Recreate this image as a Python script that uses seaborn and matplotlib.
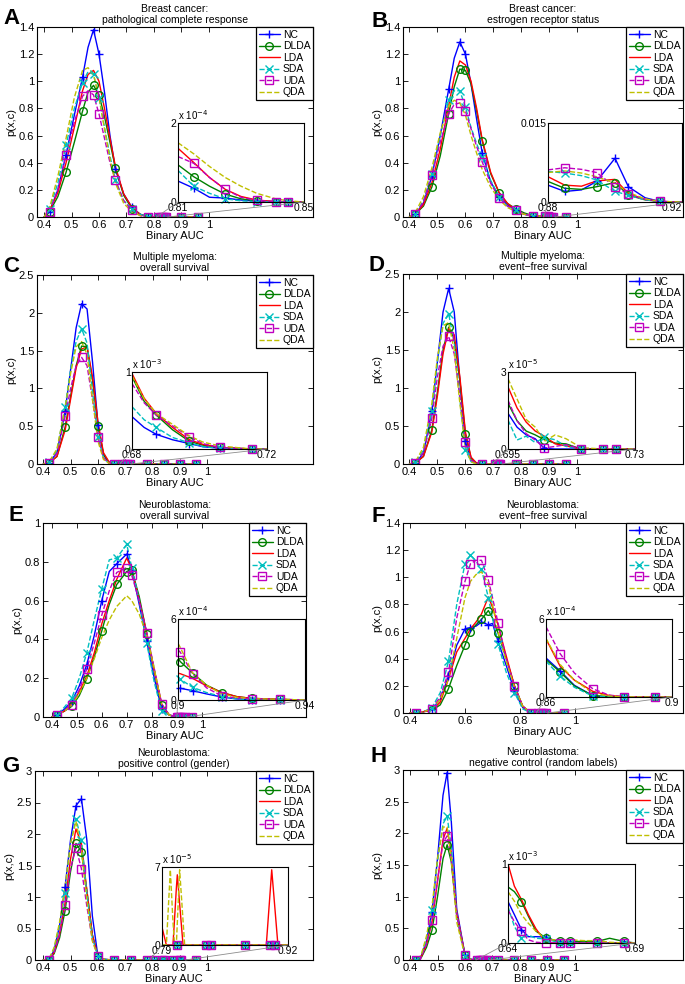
import numpy as np
import matplotlib
matplotlib.use('Agg')
import matplotlib.pyplot as plt
import seaborn as sns
from matplotlib.lines import Line2D
from matplotlib.patches import ConnectionPatch
from matplotlib.ticker import FuncFormatter

# ---------------- data ----------------
METHODS = ['NC', 'DLDA', 'LDA', 'SDA', 'UDA', 'QDA']

# Panel A: Breast cancer, pCR
A_x = [0.40, 0.42, 0.45, 0.48, 0.51, 0.54, 0.56, 0.58, 0.60, 0.62, 0.64, 0.66, 0.69, 0.72, 0.75, 0.78, 0.84, 0.90, 0.96]
A_NC = [0, 0.04, 0.2, 0.46, 0.75, 1.03, 1.25, 1.38, 1.2, 0.92, 0.6, 0.35, 0.17, 0.07, 0.02, 0, 0, 0, 0]
A_DLDA = [0, 0.04, 0.15, 0.33, 0.55, 0.78, 0.92, 0.97, 0.9, 0.74, 0.55, 0.36, 0.16, 0.06, 0.02, 0, 0, 0, 0]
A_LDA = [0, 0.05, 0.18, 0.40, 0.66, 0.93, 1.05, 1.08, 1.0, 0.8, 0.58, 0.37, 0.17, 0.07, 0.02, 0, 0, 0, 0]
A_SDA = [0, 0.06, 0.25, 0.53, 0.80, 0.99, 1.07, 1.05, 0.88, 0.66, 0.45, 0.27, 0.12, 0.06, 0.02, 0, 0, 0, 0]
A_UDA = [0, 0.04, 0.2, 0.46, 0.70, 0.89, 0.93, 0.9, 0.76, 0.58, 0.40, 0.27, 0.12, 0.05, 0.01, 0, 0, 0, 0]
A_QDA = [0, 0.07, 0.3, 0.58, 0.88, 1.08, 1.1, 1.05, 0.88, 0.65, 0.43, 0.25, 0.1, 0.04, 0.01, 0, 0, 0, 0]
A_mk = [0.42, 0.48, 0.54, 0.58, 0.60, 0.66, 0.72, 0.78, 0.90, 0.96]
A_in_x = [0.810, 0.815, 0.820, 0.825, 0.830, 0.835, 0.841, 0.845, 0.850]
A_in_NC = [0.53, 0.35, 0.12, 0.10, 0.05, 0.02, 0.0, 0.0, 0.0]
A_in_DLDA = [0.94, 0.64, 0.40, 0.20, 0.08, 0.03, 0.01, 0, 0]
A_in_LDA = [1.36, 1.0, 0.62, 0.32, 0.14, 0.05, 0.01, 0, 0]
A_in_SDA = [0.80, 0.40, 0.22, 0.08, 0.03, 0.01, 0, 0, 0]
A_in_UDA = [1.15, 0.98, 0.62, 0.32, 0.12, 0.04, 0.01, 0, 0]
A_in_QDA = [1.5, 1.22, 0.9, 0.62, 0.4, 0.22, 0.08, 0.03, 0]
A_in_mk = [0.815, 0.825, 0.835, 0.841, 0.845]

# Panel B: Breast cancer, ER status
B_x = [0.40, 0.42, 0.45, 0.48, 0.51, 0.54, 0.56, 0.58, 0.60, 0.62, 0.64, 0.66, 0.69, 0.72, 0.75, 0.78, 0.81, 0.84, 0.90, 0.96]
B_NC = [0, 0.02, 0.1, 0.3, 0.6, 0.94, 1.17, 1.29, 1.2, 0.98, 0.72, 0.47, 0.26, 0.15, 0.09, 0.05, 0.02, 0.01, 0, 0]
B_DLDA = [0, 0.02, 0.08, 0.22, 0.45, 0.76, 0.96, 1.09, 1.08, 0.98, 0.78, 0.56, 0.32, 0.18, 0.1, 0.06, 0.03, 0.01, 0, 0]
B_LDA = [0, 0.02, 0.09, 0.25, 0.5, 0.82, 1.03, 1.15, 1.12, 1.0, 0.8, 0.57, 0.33, 0.18, 0.1, 0.05, 0.02, 0.01, 0, 0]
B_SDA = [0, 0.02, 0.12, 0.32, 0.6, 0.86, 0.93, 0.93, 0.81, 0.66, 0.54, 0.44, 0.27, 0.15, 0.08, 0.05, 0.02, 0.01, 0, 0]
B_UDA = [0, 0.02, 0.11, 0.31, 0.55, 0.76, 0.83, 0.84, 0.78, 0.65, 0.52, 0.405, 0.25, 0.14, 0.08, 0.05, 0.02, 0.01, 0, 0]
B_QDA = [0, 0.03, 0.15, 0.36, 0.62, 0.82, 0.86, 0.84, 0.75, 0.6, 0.47, 0.35, 0.22, 0.13, 0.07, 0.04, 0.02, 0.01, 0, 0]
B_mk = [0.42, 0.48, 0.54, 0.58, 0.60, 0.66, 0.72, 0.78, 0.84, 0.96]
B_in_x = [0.880, 0.885, 0.890, 0.8945, 0.900, 0.904, 0.909, 0.9135, 0.920]
B_in_NC = [3.2, 2.0, 2.3, 3.9, 8.3, 2.9, 0.8, 0.1, 0]
B_in_DLDA = [3.9, 2.6, 2.4, 2.9, 3.7, 1.3, 0.4, 0.1, 0]
B_in_LDA = [4.8, 3.2, 3.0, 4.0, 4.3, 1.6, 0.5, 0.1, 0]
B_in_SDA = [5.8, 5.5, 5.0, 4.2, 2.0, 1.3, 0.4, 0.1, 0]
B_in_UDA = [6.1, 6.5, 6.2, 5.6, 2.9, 1.5, 0.5, 0.1, 0]
B_in_QDA = [5.6, 5.9, 5.5, 4.8, 3.6, 1.8, 0.6, 0.1, 0]
B_in_mk = [0.885, 0.8945, 0.900, 0.904, 0.9135]

# Panel C: Multiple myeloma, overall survival
C_x = [0.40, 0.42, 0.45, 0.48, 0.50, 0.52, 0.54, 0.56, 0.58, 0.60, 0.62, 0.64, 0.66, 0.72, 0.78, 0.84, 0.90, 0.96]
C_NC = [0, 0.01, 0.15, 0.70, 1.25, 1.8, 2.12, 2.05, 1.35, 0.52, 0.12, 0.02, 0, 0, 0, 0, 0, 0]
C_DLDA = [0, 0.01, 0.1, 0.49, 0.9, 1.3, 1.56, 1.55, 1.1, 0.5, 0.13, 0.02, 0, 0, 0, 0, 0, 0]
C_LDA = [0, 0.01, 0.1, 0.45, 0.86, 1.27, 1.52, 1.55, 1.15, 0.55, 0.15, 0.03, 0, 0, 0, 0, 0, 0]
C_SDA = [0, 0.02, 0.18, 0.76, 1.25, 1.62, 1.79, 1.6, 0.95, 0.36, 0.08, 0.01, 0, 0, 0, 0, 0, 0]
C_UDA = [0, 0.01, 0.14, 0.63, 1.0, 1.3, 1.41, 1.3, 0.85, 0.36, 0.08, 0.01, 0, 0, 0, 0, 0, 0]
C_QDA = [0, 0.02, 0.2, 0.75, 1.2, 1.55, 1.62, 1.45, 0.85, 0.3, 0.06, 0.01, 0, 0, 0, 0, 0, 0]
C_mk = [0.42, 0.48, 0.54, 0.60, 0.66, 0.78, 0.84, 0.90, 0.96]
C_in_x = [0.680, 0.6836, 0.6872, 0.692, 0.697, 0.701, 0.706, 0.7155, 0.720]
C_in_NC = [0.42, 0.28, 0.19, 0.12, 0.07, 0.03, 0.01, 0, 0]
C_in_DLDA = [0.94, 0.62, 0.44, 0.25, 0.10, 0.05, 0.02, 0, 0]
C_in_LDA = [0.98, 0.66, 0.46, 0.28, 0.12, 0.06, 0.02, 0, 0]
C_in_SDA = [0.55, 0.38, 0.28, 0.15, 0.08, 0.03, 0.01, 0, 0]
C_in_UDA = [0.85, 0.6, 0.44, 0.3, 0.16, 0.07, 0.02, 0, 0]
C_in_QDA = [0.95, 0.65, 0.46, 0.32, 0.17, 0.09, 0.04, 0, 0]
C_in_mk = [0.6872, 0.697, 0.706, 0.7155]

# Panel D: Multiple myeloma, event-free survival
D_x = [0.40, 0.42, 0.45, 0.48, 0.50, 0.52, 0.54, 0.56, 0.58, 0.60, 0.62, 0.64, 0.66, 0.72, 0.78, 0.84, 0.90, 0.96]
D_NC = [0, 0.01, 0.14, 0.70, 1.35, 2.0, 2.31, 2.0, 1.1, 0.3, 0.05, 0.01, 0, 0, 0, 0, 0, 0]
D_DLDA = [0, 0.01, 0.1, 0.45, 0.95, 1.5, 1.8, 1.65, 1.1, 0.39, 0.08, 0.01, 0, 0, 0, 0, 0, 0]
D_LDA = [0, 0.01, 0.1, 0.42, 0.9, 1.45, 1.78, 1.7, 1.15, 0.42, 0.09, 0.01, 0, 0, 0, 0, 0, 0]
D_SDA = [0, 0.02, 0.18, 0.70, 1.35, 1.85, 1.98, 1.6, 0.85, 0.19, 0.03, 0, 0, 0, 0, 0, 0, 0]
D_UDA = [0, 0.01, 0.15, 0.60, 1.15, 1.55, 1.68, 1.45, 0.9, 0.29, 0.05, 0.01, 0, 0, 0, 0, 0, 0]
D_QDA = [0, 0.02, 0.22, 0.8, 1.4, 1.82, 1.86, 1.5, 0.8, 0.22, 0.03, 0, 0, 0, 0, 0, 0, 0]
D_mk = [0.42, 0.48, 0.54, 0.60, 0.66, 0.78, 0.84, 0.90, 0.96]
D_in_x = [0.695, 0.6975, 0.700, 0.7025, 0.705, 0.708, 0.711, 0.7152, 0.7212, 0.7247, 0.730]
D_in_NC = [1.39, 0.85, 0.55, 0.4, 0.02, 0, 0, 0, 0, 0, 0]
D_in_DLDA = [1.78, 1.1, 0.7, 0.55, 0.36, 0.23, 0.2, 0, 0, 0, 0]
D_in_LDA = [2.42, 1.6, 1.05, 0.7, 0.5, 0.2, 0.12, 0, 0, 0, 0]
D_in_SDA = [1.13, 0.35, 0.5, 0.25, 0.45, 0.36, 0.1, 0, 0, 0, 0]
D_in_UDA = [1.9, 1.1, 0.6, 0.35, 0.04, 0.1, 0.17, 0, 0, 0, 0]
D_in_QDA = [2.74, 1.95, 1.15, 0.85, 0.3, 0.55, 0.4, 0.05, 0, 0, 0]
D_in_mk = [0.705, 0.7152, 0.7212, 0.7247]

# Panel E: Neuroblastoma, overall survival
E_x = [0.40, 0.42, 0.45, 0.48, 0.51, 0.54, 0.57, 0.60, 0.63, 0.66, 0.70, 0.72, 0.75, 0.78, 0.81, 0.84, 0.87, 0.90, 0.96]
E_NC = [0, 0.01, 0.04, 0.08, 0.16, 0.27, 0.42, 0.60, 0.75, 0.79, 0.84, 0.76, 0.58, 0.39, 0.2, 0.04, 0.01, 0, 0]
E_DLDA = [0, 0.01, 0.03, 0.055, 0.11, 0.197, 0.31, 0.443, 0.58, 0.683, 0.75, 0.76, 0.62, 0.43, 0.24, 0.06, 0.01, 0, 0]
E_LDA = [0, 0.01, 0.03, 0.068, 0.13, 0.21, 0.33, 0.48, 0.6, 0.71, 0.82, 0.76, 0.6, 0.43, 0.24, 0.065, 0.01, 0, 0]
E_SDA = [0, 0.01, 0.05, 0.097, 0.2, 0.33, 0.5, 0.66, 0.81, 0.82, 0.89, 0.77, 0.6, 0.38, 0.18, 0.03, 0.01, 0, 0]
E_UDA = [0, 0.01, 0.03, 0.06, 0.14, 0.248, 0.38, 0.525, 0.65, 0.745, 0.77, 0.73, 0.6, 0.435, 0.25, 0.067, 0.01, 0, 0]
E_QDA = [0, 0.01, 0.03, 0.06, 0.12, 0.2, 0.3, 0.41, 0.5, 0.57, 0.625, 0.6, 0.53, 0.42, 0.25, 0.06, 0.01, 0, 0]
E_mk = [0.42, 0.48, 0.54, 0.60, 0.66, 0.70, 0.72, 0.78, 0.84, 0.96]
E_in_x = [0.900, 0.9007, 0.9046, 0.909, 0.9138, 0.9185, 0.9232, 0.932, 0.940]
E_in_NC = [0.87, 0.87, 0.69, 0.45, 0.22, 0.08, 0.02, 0, 0]
E_in_DLDA = [3.1, 2.85, 2.0, 1.1, 0.55, 0.25, 0.12, 0.05, 0]
E_in_LDA = [1.98, 1.95, 1.6, 1.05, 0.55, 0.25, 0.12, 0.05, 0]
E_in_SDA = [1.74, 1.54, 0.94, 0.55, 0.25, 0.08, 0.02, 0, 0]
E_in_UDA = [3.7, 3.55, 1.94, 0.9, 0.3, 0.15, 0.1, 0.05, 0]
E_in_QDA = [4.2, 3.9, 2.0, 1.1, 0.45, 0.2, 0.1, 0.05, 0]
E_in_mk = [0.9007, 0.9046, 0.9138, 0.9232, 0.932]

# Panel F: Neuroblastoma, event-free survival
F_x = [0.40, 0.42, 0.45, 0.48, 0.51, 0.54, 0.57, 0.60, 0.62, 0.64, 0.66, 0.685, 0.70, 0.72, 0.75, 0.78, 0.81, 0.84, 0.90, 0.96]
F_NC = [0, 0, 0.01, 0.03, 0.1, 0.27, 0.5, 0.62, 0.63, 0.64, 0.67, 0.65, 0.66, 0.53, 0.35, 0.16, 0.04, 0, 0, 0]
F_DLDA = [0, 0, 0.01, 0.02, 0.06, 0.18, 0.35, 0.50, 0.6, 0.65, 0.69, 0.755, 0.7, 0.59, 0.4, 0.2, 0.05, 0, 0, 0]
F_LDA = [0, 0, 0.01, 0.02, 0.08, 0.25, 0.45, 0.55, 0.62, 0.67, 0.73, 0.855, 0.78, 0.65, 0.42, 0.2, 0.05, 0, 0, 0]
F_SDA = [0, 0, 0.01, 0.04, 0.15, 0.38, 0.8, 1.1, 1.165, 1.12, 1.06, 0.85, 0.7, 0.51, 0.3, 0.15, 0.03, 0, 0, 0]
F_UDA = [0, 0, 0.01, 0.03, 0.12, 0.3, 0.7, 0.97, 1.1, 1.125, 1.125, 0.98, 0.85, 0.665, 0.4, 0.2, 0.05, 0, 0, 0]
F_QDA = [0, 0, 0.01, 0.03, 0.1, 0.25, 0.55, 0.85, 0.97, 1.02, 1.04, 0.95, 0.8, 0.6, 0.38, 0.19, 0.05, 0, 0, 0]
F_mk = [0.42, 0.48, 0.54, 0.60, 0.62, 0.66, 0.685, 0.72, 0.78, 0.84, 0.96]
F_in_x = [0.860, 0.8645, 0.869, 0.8749, 0.880, 0.8848, 0.8947, 0.900]
F_in_NC = [3.0, 2.0, 0.9, 0.1, 0.02, 0, 0, 0]
F_in_DLDA = [2.87, 1.92, 0.85, 0.1, 0.02, 0, 0, 0]
F_in_LDA = [4.46, 2.36, 1.3, 0.43, 0.12, 0.02, 0, 0]
F_in_SDA = [2.75, 1.6, 0.75, 0.06, 0.01, 0, 0, 0]
F_in_UDA = [5.4, 3.33, 1.85, 0.62, 0.15, 0.02, 0, 0]
F_in_QDA = [4.5, 2.5, 1.3, 0.3, 0.08, 0.01, 0, 0]
F_in_mk = [0.8645, 0.8749, 0.8848, 0.8947]

# Panel G: Neuroblastoma, positive control (gender)
G_x = [0.40, 0.42, 0.44, 0.46, 0.48, 0.50, 0.52, 0.54, 0.56, 0.58, 0.60, 0.62, 0.66, 0.72, 0.78, 0.84, 0.90, 0.96]
G_NC = [0, 0, 0.15, 0.55, 1.16, 1.9, 2.45, 2.56, 1.9, 0.7, 0.07, 0.01, 0, 0, 0, 0, 0, 0]
G_DLDA = [0, 0, 0.1, 0.35, 0.78, 1.4, 1.85, 1.72, 1.1, 0.4, 0.07, 0.01, 0, 0, 0, 0, 0, 0]
G_LDA = [0, 0, 0.12, 0.42, 0.9, 1.6, 2.08, 1.85, 1.1, 0.4, 0.07, 0.01, 0, 0, 0, 0, 0, 0]
G_SDA = [0, 0, 0.18, 0.55, 1.07, 1.85, 2.24, 1.9, 1.05, 0.35, 0.07, 0.01, 0, 0, 0, 0, 0, 0]
G_UDA = [0, 0, 0.12, 0.4, 0.87, 1.45, 1.78, 1.45, 0.85, 0.32, 0.07, 0.01, 0, 0, 0, 0, 0, 0]
G_QDA = [0, 0, 0.2, 0.6, 1.15, 1.85, 2.2, 1.75, 0.95, 0.3, 0.06, 0.01, 0, 0, 0, 0, 0, 0]
G_mk = [0.42, 0.48, 0.52, 0.54, 0.60, 0.66, 0.72, 0.78, 0.96]
G_in_x = [0.790, 0.7945, 0.7986, 0.8013, 0.8030, 0.8048, 0.8058, 0.8082, 0.8117, 0.8134,
          0.835, 0.8409, 0.8759, 0.8976, 0.9017, 0.9032, 0.9062, 0.9096, 0.920]
G_in_LDA = [1.6, 0, 0, 0, 2.4, 5.1, 6.3, 3.7, 0, 0, 0, 0, 0, 0, 4.9, 6.75, 3.6, 0, 0]
G_in_QDA = [0, 0, 6.75, 2.1, 0, 0, 2.0, 6.75, 2.2, 0, 0, 0, 0, 0, 0, 0, 0, 0, 0]
G_in_flat = [0, 0, 0, 0, 0, 0, 0, 0, 0, 0, 0, 0, 0, 0, 0, 0, 0, 0, 0]
G_in_mk = [0.8058, 0.835, 0.8409, 0.8759, 0.9017, 0.9062]

# Panel H: Neuroblastoma, negative control (random labels)
H_x = [0.40, 0.42, 0.44, 0.46, 0.48, 0.50, 0.52, 0.535, 0.55, 0.57, 0.60, 0.62, 0.64, 0.72, 0.78, 0.84, 0.90, 0.96]
H_NC = [0, 0, 0.05, 0.3, 0.76, 1.6, 2.6, 2.96, 2.2, 0.8, 0.08, 0.01, 0, 0, 0, 0, 0, 0]
H_DLDA = [0, 0, 0.03, 0.2, 0.47, 1.0, 1.6, 1.82, 1.55, 0.7, 0.08, 0.01, 0, 0, 0, 0, 0, 0]
H_LDA = [0, 0, 0.04, 0.25, 0.6, 1.25, 1.9, 2.08, 1.7, 0.75, 0.08, 0.01, 0, 0, 0, 0, 0, 0]
H_SDA = [0, 0, 0.06, 0.32, 0.79, 1.55, 2.15, 2.27, 1.8, 0.7, 0.07, 0.01, 0, 0, 0, 0, 0, 0]
H_UDA = [0, 0, 0.04, 0.25, 0.63, 1.25, 1.85, 1.96, 1.6, 0.7, 0.08, 0.01, 0, 0, 0, 0, 0, 0]
H_QDA = [0, 0, 0.07, 0.38, 0.85, 1.6, 2.1, 2.1, 1.6, 0.6, 0.06, 0.01, 0, 0, 0, 0, 0, 0]
H_mk = [0.42, 0.48, 0.535, 0.60, 0.72, 0.78, 0.84, 0.90, 0.96]
H_in_x = [0.640, 0.6425, 0.6453, 0.648, 0.651, 0.6551, 0.6605, 0.6646, 0.670, 0.6751, 0.680, 0.6856, 0.690]
H_in_NC = [0.525, 0.36, 0.17, 0.08, 0.08, 0.075, 0.0, 0, 0, 0, 0, 0, 0]
H_in_DLDA = [0.71, 0.65, 0.525, 0.34, 0.15, 0.06, 0.02, 0.02, 0.02, 0.02, 0.06, 0.02, 0]
H_in_LDA = [1.0, 0.72, 0.55, 0.36, 0.18, 0.0, 0, 0, 0, 0, 0, 0, 0]
H_in_SDA = [0.46, 0.21, 0.06, 0.1, 0.06, 0.05, 0.0, 0, 0, 0, 0, 0, 0]
H_in_UDA = [0.42, 0.27, 0.15, 0.04, 0.01, 0.0, 0, 0, 0, 0, 0, 0, 0]
H_in_QDA = [0.65, 0.53, 0.36, 0.25, 0.15, 0.04, 0.04, 0.04, 0.03, 0.03, 0.01, 0, 0]
H_in_mk = [0.6453, 0.6551, 0.6605, 0.6646, 0.6751, 0.6856]

LETTERS = ['A', 'B', 'C', 'D', 'E', 'F', 'G', 'H']
TITLES = ['Breast cancer:\npathological complete response',
          'Breast cancer:\nestrogen receptor status',
          'Multiple myeloma:\noverall survival',
          'Multiple myeloma:\nevent\u2212free survival',
          'Neuroblastoma:\noverall survival',
          'Neuroblastoma:\nevent\u2212free survival',
          'Neuroblastoma:\npositive control (gender)',
          'Neuroblastoma:\nnegative control (random labels)']
INSET_XLABELS = [('0.81', '0.85'), ('0.88', '0.92'), ('0.68', '0.72'), ('0.695', '0.73'),
                 ('0.9', '0.94'), ('0.86', '0.9'), ('0.79', '0.92'), ('0.64', '0.69')]
INSET_YTOP = [2, 15, 1, 3, 6, 6, 7, 1]
INSET_YTOP_LABEL = ['2', '0.015', '1', '3', '6', '6', '7', '1']
INSET_EXP = [-4, -3, -3, -5, -4, -4, -5, -3]
INSET_OFFSET_SHOWN = [True, False, True, True, True, True, True, True]

def curves(*vals):
    return dict(zip(METHODS, vals))

DATA = [
    (A_x, curves(A_NC, A_DLDA, A_LDA, A_SDA, A_UDA, A_QDA), A_mk,
     A_in_x, curves(A_in_NC, A_in_DLDA, A_in_LDA, A_in_SDA, A_in_UDA, A_in_QDA), A_in_mk),
    (B_x, curves(B_NC, B_DLDA, B_LDA, B_SDA, B_UDA, B_QDA), B_mk,
     B_in_x, curves(B_in_NC, B_in_DLDA, B_in_LDA, B_in_SDA, B_in_UDA, B_in_QDA), B_in_mk),
    (C_x, curves(C_NC, C_DLDA, C_LDA, C_SDA, C_UDA, C_QDA), C_mk,
     C_in_x, curves(C_in_NC, C_in_DLDA, C_in_LDA, C_in_SDA, C_in_UDA, C_in_QDA), C_in_mk),
    (D_x, curves(D_NC, D_DLDA, D_LDA, D_SDA, D_UDA, D_QDA), D_mk,
     D_in_x, curves(D_in_NC, D_in_DLDA, D_in_LDA, D_in_SDA, D_in_UDA, D_in_QDA), D_in_mk),
    (E_x, curves(E_NC, E_DLDA, E_LDA, E_SDA, E_UDA, E_QDA), E_mk,
     E_in_x, curves(E_in_NC, E_in_DLDA, E_in_LDA, E_in_SDA, E_in_UDA, E_in_QDA), E_in_mk),
    (F_x, curves(F_NC, F_DLDA, F_LDA, F_SDA, F_UDA, F_QDA), F_mk,
     F_in_x, curves(F_in_NC, F_in_DLDA, F_in_LDA, F_in_SDA, F_in_UDA, F_in_QDA), F_in_mk),
    (G_x, curves(G_NC, G_DLDA, G_LDA, G_SDA, G_UDA, G_QDA), G_mk,
     G_in_x, curves(G_in_flat, G_in_flat, G_in_LDA, G_in_flat, G_in_flat, G_in_QDA), G_in_mk),
    (H_x, curves(H_NC, H_DLDA, H_LDA, H_SDA, H_UDA, H_QDA), H_mk,
     H_in_x, curves(H_in_NC, H_in_DLDA, H_in_LDA, H_in_SDA, H_in_UDA, H_in_QDA), H_in_mk),
]

# ---------------- style / layout ----------------
COLORS = {'NC': '#0000ff', 'DLDA': '#008000', 'LDA': '#ff0000',
          'SDA': '#00bfbf', 'UDA': '#bf00bf', 'QDA': '#bfbf00'}
LSTYLE = {'NC': '-', 'DLDA': '-', 'LDA': '-', 'SDA': '--', 'UDA': '--', 'QDA': '--'}
MARK = {'NC': '+', 'DLDA': 'o', 'LDA': None, 'SDA': 'x', 'UDA': 's', 'QDA': None}

W, H = 685, 984
MAIN_BOX = [(37, 27, 313, 217), (403, 27, 683, 217), (37, 275, 313, 464), (403, 274, 683, 464),
            (43, 523, 306, 717), (403, 523, 683, 713), (35, 771, 313, 960), (403, 770, 683, 960)]
INSET_BOX = [(178, 123, 304, 202), (548, 123, 682, 202), (132, 372, 267, 449), (508, 372, 635, 449),
             (178, 619, 305, 700), (546, 619, 672, 697), (162, 867, 288, 945), (508, 864, 635, 943)]
XLIMS = [(0.374, 1.38), (0.377, 1.377), (0.377, 1.386), (0.377, 1.377),
         (0.365, 1.417), (0.3745, 1.393), (0.37, 1.388), (0.3745, 1.393)]
YLIMS = [1.4, 1.4, 2.5, 2.5, 1.0, 1.4, 3.0, 3.0]
YSTEP = [0.2, 0.2, 0.5, 0.5, 0.2, 0.2, 0.5, 0.5]
XSTEP = [0.1, 0.1, 0.1, 0.1, 0.1, 0.2, 0.1, 0.1]
LETTER_POS = [(3, 8), (371, 11), (3, 256), (368, 255), (9, 505), (371, 506), (2, 756), (370, 746)]

sns.set_theme(style='ticks')
plt.rcParams['font.family'] = ['Liberation Sans', 'DejaVu Sans']
plt.rcParams['axes.edgecolor'] = 'black'
plt.rcParams['axes.linewidth'] = 0.8
plt.rcParams['xtick.color'] = 'black'
plt.rcParams['ytick.color'] = 'black'
plt.rcParams['text.color'] = 'black'
plt.rcParams['axes.labelcolor'] = 'black'

fig = plt.figure(figsize=(W / 100, H / 100), dpi=100)
fig.patch.set_facecolor('white')


def rect(box):
    l, t, r, b = box
    return [l / W, 1 - b / H, (r - l) / W, (b - t) / H]


gfmt = FuncFormatter(lambda v, p: f'{v:g}')

for i in range(8):
    x, cv, mk, ix, icv, imk = DATA[i]
    scale = 10.0 ** INSET_EXP[i]
    ax = fig.add_axes(rect(MAIN_BOX[i]))
    ax.set_facecolor('white')
    xs = np.array(x)
    for m in METHODS:
        sns.lineplot(x=xs, y=np.array(cv[m]), ax=ax, color=COLORS[m], linestyle=LSTYLE[m],
                     lw=1.0, estimator=None, sort=False, legend=False)
    for m in METHODS:
        if MARK[m] is None:
            continue
        ys = np.array(cv[m])
        sel = np.isin(xs, mk)
        ax.plot(xs[sel], ys[sel], ls='none', marker=MARK[m], color=COLORS[m], mfc='none', ms=5.5, mew=1.0)
        ixs = np.array(ix)
        iys = np.array(icv[m]) * scale
        isel = np.isin(ixs, imk)
        ax.plot(ixs[isel], iys[isel], ls='none', marker=MARK[m], color=COLORS[m], mfc='none', ms=5.5, mew=1.0)
    ax.set_xlim(*XLIMS[i])
    ax.set_ylim(0, YLIMS[i])
    xt = np.arange(0.4, 1.0001, XSTEP[i])
    ax.set_xticks(np.round(xt, 2))
    ax.set_yticks(np.round(np.arange(0, YLIMS[i] + 1e-6, YSTEP[i]), 2))
    ax.xaxis.set_major_formatter(gfmt)
    ax.yaxis.set_major_formatter(gfmt)
    ax.tick_params(direction='in', length=3.5, width=0.6, top=True, right=True, labelsize=8, pad=2)
    for s in ax.spines.values():
        s.set_visible(True)
        s.set_color('black')
        s.set_linewidth(0.8)
    ax.set_xlabel('Binary AUC', fontsize=8, labelpad=1)
    ax.set_ylabel('p(x,c)', fontsize=8, labelpad=2)
    ax.set_title(TITLES[i], fontsize=7.5, pad=3, linespacing=1.1)

    handles = [Line2D([0], [0], color=COLORS[m], ls=LSTYLE[m], lw=1.0,
                      marker=MARK[m] if MARK[m] else None, mfc='none', ms=5.5, mew=1.0)
               for m in METHODS]
    leg = ax.legend(handles, METHODS, loc='upper right', fontsize=7.5, frameon=True, fancybox=False,
                    edgecolor='black', framealpha=1, borderaxespad=0, handlelength=2.0,
                    handletextpad=0.3, labelspacing=0.15, borderpad=0.25, numpoints=1)
    leg.get_frame().set_linewidth(0.9)

    # inset
    axi = fig.add_axes(rect(INSET_BOX[i]))
    axi.set_facecolor('white')
    ixs = np.array(ix)
    for m in METHODS:
        sns.lineplot(x=ixs, y=np.array(icv[m]), ax=axi, color=COLORS[m], linestyle=LSTYLE[m],
                     lw=1.0, estimator=None, sort=False, legend=False)
    for m in METHODS:
        if MARK[m] is None:
            continue
        iys = np.array(icv[m])
        isel = np.isin(ixs, imk)
        axi.plot(ixs[isel], iys[isel], ls='none', marker=MARK[m], color=COLORS[m], mfc='none', ms=5.5,
                 mew=1.0, clip_on=False)
    xlo, xhi = ix[0], ix[-1]
    axi.set_xlim(xlo, xhi)
    axi.set_ylim(0, INSET_YTOP[i])
    axi.set_xticks([xlo, xhi])
    axi.set_xticklabels(list(INSET_XLABELS[i]))
    if INSET_BOX[i][2] > W - 10:
        axi.get_xticklabels()[-1].set_ha('right')
    axi.set_yticks([0, INSET_YTOP[i]])
    axi.set_yticklabels(['0', INSET_YTOP_LABEL[i]])
    axi.tick_params(length=0, labelsize=7.5, pad=1)
    axi.set_xlabel('')
    axi.set_ylabel('')
    for s in axi.spines.values():
        s.set_visible(True)
        s.set_color('black')
        s.set_linewidth(0.8)
    if INSET_OFFSET_SHOWN[i]:
        axi.text(0.0, 1.01, 'x 10$^{%d}$' % INSET_EXP[i], transform=axi.transAxes,
                 fontsize=7, ha='left', va='bottom')
    for xv in (xlo, xhi):
        con = ConnectionPatch(xyA=(xv, 0), coordsA=axi.transData, xyB=(xv, 0), coordsB=ax.transData,
                              color='0.55', lw=0.6)
        fig.add_artist(con)

    lx, ly = LETTER_POS[i]
    fig.text(lx / W, 1 - ly / H, LETTERS[i], fontsize=16, fontweight='bold', ha='left', va='top')

fig.savefig('out.png', dpi=100, facecolor='white')
